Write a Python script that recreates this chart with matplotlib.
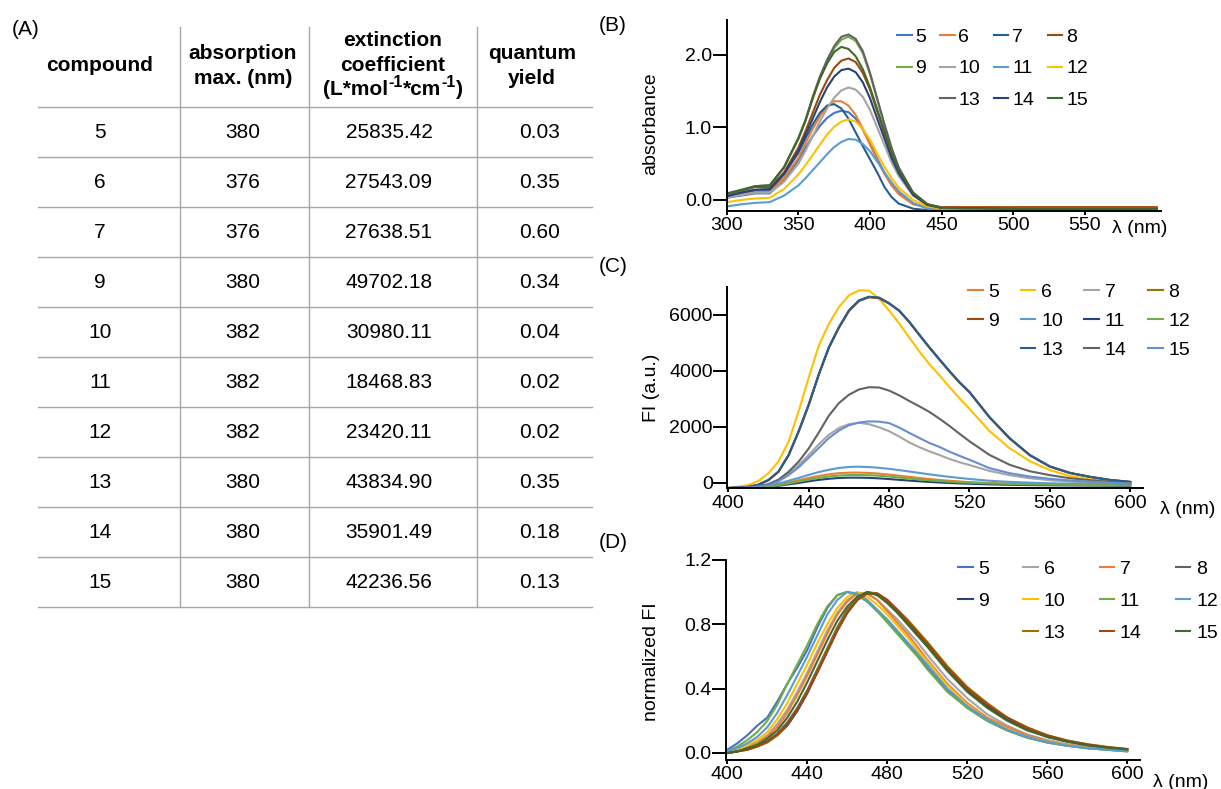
import matplotlib
matplotlib.use('Agg')
import matplotlib.pyplot as plt
from matplotlib.lines import Line2D

plt.rcParams['font.family'] = ['Liberation Sans', 'DejaVu Sans']

# ---- (A) table data ----
compounds = ['5', '6', '7', '9', '10', '11', '12', '13', '14', '15']
abs_max = [380, 376, 376, 380, 382, 382, 382, 380, 380, 380]
ext_coeff = [25835.42, 27543.09, 27638.51, 49702.18, 30980.11,
             18468.83, 23420.11, 43834.90, 35901.49, 42236.56]
q_yield = [0.03, 0.35, 0.60, 0.34, 0.04, 0.02, 0.02, 0.35, 0.18, 0.13]

# ---- (B) absorbance spectra ----
wl_abs = [300, 310, 320, 330, 340, 350, 355, 360, 365, 370, 375, 380, 385,
          390, 395, 400, 405, 410, 415, 420, 430, 440, 450, 500, 550, 600]
abs5 = [.03, .06, .09, .09, .27, .55, .72, .88, 1.02, 1.13, 1.20, 1.23, 1.21, 1.12, .97, .78, .57, .38, .22, .10, -.05, -.11, -.13, -.13, -.13, -.13]
abs6 = [.05, .08, .12, .12, .30, .58, .78, .98, 1.15, 1.29, 1.36, 1.36, 1.30, 1.17, .98, .76, .55, .36, .20, .08, -.06, -.10, -.10, -.10, -.10, -.10]
abs7 = [.06, .10, .14, .14, .35, .65, .85, 1.04, 1.20, 1.30, 1.32, 1.26, 1.12, .93, .74, .56, .38, .18, .04, -.05, -.12, -.14, -.15, -.15, -.15, -.15]
abs8 = [.07, .12, .18, .17, .38, .72, .95, 1.20, 1.45, 1.65, 1.82, 1.92, 1.95, 1.90, 1.75, 1.52, 1.22, .92, .63, .40, .08, -.06, -.10, -.10, -.10, -.10]
abs9 = [.08, .13, .19, .20, .45, .84, 1.09, 1.40, 1.68, 1.90, 2.09, 2.21, 2.25, 2.19, 2.02, 1.73, 1.38, 1.03, .71, .44, .10, -.06, -.11, -.12, -.12, -.12]
abs10 = [.03, .07, .10, .10, .25, .50, .68, .88, 1.08, 1.26, 1.41, 1.51, 1.55, 1.52, 1.42, 1.24, 1.00, .76, .52, .33, .06, -.07, -.11, -.12, -.12, -.12]
abs11 = [-.09, -.06, -.04, -.03, .06, .20, .30, .41, .52, .63, .73, .80, .84, .83, .77, .67, .53, .38, .24, .12, -.04, -.12, -.15, -.155, -.155, -.155]
abs12 = [-.03, .00, .02, .03, .15, .35, .48, .62, .76, .90, 1.01, 1.08, 1.11, 1.08, .98, .83, .64, .46, .30, .17, .00, -.09, -.12, -.12, -.12, -.12]
abs13 = [.08, .13, .19, .20, .45, .85, 1.10, 1.42, 1.70, 1.93, 2.12, 2.25, 2.28, 2.22, 2.05, 1.75, 1.40, 1.05, .72, .45, .10, -.06, -.11, -.12, -.12, -.12]
abs14 = [.05, .10, .14, .15, .36, .68, .90, 1.12, 1.35, 1.55, 1.70, 1.79, 1.81, 1.76, 1.62, 1.40, 1.12, .85, .58, .37, .07, -.07, -.11, -.12, -.12, -.12]
abs15 = [.09, .14, .19, .20, .45, .85, 1.10, 1.40, 1.67, 1.88, 2.04, 2.11, 2.08, 1.98, 1.80, 1.55, 1.25, .95, .65, .42, .10, -.06, -.11, -.12, -.12, -.12]

# ---- (C) fluorescence spectra ----
wl_fl = [400, 405, 410, 415, 420, 425, 430, 435, 440, 445, 450, 455, 460, 465, 470,
         475, 480, 485, 490, 495, 500, 505, 510, 515, 520, 530, 540, 550, 560, 570, 580, 590, 600]
fl5 = [-180, -175, -165, -150, -120, -60, 20, 100, 180, 250, 310, 350, 368, 370, 360, 335, 300, 260, 220, 180, 140, 110, 80, 55, 30, 0, -20, -40, -50, -60, -65, -70, -75]
fl6 = [-175, -130, -70, 70, 350, 770, 1480, 2560, 3760, 4900, 5680, 6280, 6700, 6880, 6870, 6580, 6160, 5700, 5200, 4700, 4250, 3850, 3430, 3030, 2650, 1850, 1240, 780, 460, 250, 130, 40, -20]
fl7 = [-180, -170, -155, -120, -50, 100, 330, 640, 1000, 1380, 1720, 1960, 2100, 2150, 2100, 1990, 1850, 1660, 1450, 1280, 1130, 1000, 860, 740, 640, 430, 280, 170, 100, 50, 10, -10, -30]
fl8 = [-180, -165, -140, -65, 100, 400, 990, 1830, 2780, 3860, 4820, 5540, 6140, 6500, 6630, 6600, 6410, 6150, 5750, 5290, 4840, 4410, 3990, 3590, 3240, 2340, 1590, 990, 585, 355, 215, 105, 35]
fl9 = [-180, -165, -140, -62, 105, 405, 995, 1840, 2790, 3870, 4830, 5550, 6150, 6510, 6645, 6615, 6415, 6155, 5755, 5295, 4845, 4415, 3995, 3595, 3245, 2345, 1595, 995, 588, 358, 218, 108, 38]
fl10 = [-180, -175, -170, -150, -100, -20, 80, 180, 290, 390, 470, 535, 572, 582, 568, 542, 505, 460, 410, 360, 310, 262, 220, 180, 142, 80, 40, 10, -10, -25, -35, -45, -55]
fl11 = [-185, -182, -178, -165, -140, -100, -50, 0, 60, 110, 150, 178, 190, 190, 182, 165, 140, 112, 85, 60, 38, 18, 0, -15, -28, -50, -65, -75, -82, -88, -92, -95, -98]
fl12 = [-182, -178, -172, -155, -130, -80, -20, 50, 120, 180, 230, 265, 283, 285, 278, 258, 230, 195, 160, 125, 95, 70, 45, 25, 10, -15, -35, -50, -60, -68, -72, -76, -80]
fl13 = [-180, -165, -140, -60, 110, 410, 1000, 1850, 2800, 3880, 4840, 5560, 6160, 6520, 6650, 6620, 6420, 6160, 5760, 5300, 4850, 4420, 4000, 3600, 3250, 2350, 1600, 1000, 590, 360, 220, 110, 40]
fl14 = [-180, -170, -155, -120, -40, 120, 400, 760, 1230, 1800, 2400, 2850, 3150, 3340, 3420, 3410, 3300, 3130, 2930, 2740, 2540, 2300, 2040, 1760, 1490, 1000, 650, 420, 280, 170, 100, 40, -10]
fl15 = [-180, -172, -160, -130, -70, 60, 280, 560, 900, 1250, 1600, 1870, 2060, 2160, 2200, 2190, 2140, 1980, 1790, 1610, 1430, 1290, 1120, 970, 830, 530, 350, 230, 150, 90, 50, 10, -20]

# ---- (D) normalized fluorescence ----
wl_nfl = [400, 405, 410, 415, 420, 425, 430, 435, 440, 445, 450, 455, 460, 465, 470,
          475, 480, 485, 490, 495, 500, 510, 520, 530, 540, 550, 560, 570, 580, 590, 600]
nfl5 = [.02, .06, .11, .17, .22, .32, .43, .53, .64, .78, .90, .98, 1.0, .98, .94, .88, .82, .75, .68, .61, .53, .39, .28, .20, .14, .095, .065, .045, .03, .02, .012]
nfl6 = [.0, .02, .04, .07, .11, .18, .27, .38, .50, .63, .76, .87, .95, .99, .99, .95, .89, .83, .76, .69, .61, .46, .34, .24, .17, .115, .08, .055, .037, .025, .016]
nfl7 = [.0, .01, .03, .06, .10, .16, .25, .36, .48, .61, .74, .86, .94, .99, .99, .95, .88, .81, .74, .66, .58, .43, .31, .22, .16, .11, .075, .05, .034, .023, .015]
nfl8 = [.0, .01, .025, .045, .075, .12, .19, .28, .39, .52, .65, .78, .89, .96, 1.0, .98, .94, .88, .81, .74, .67, .52, .39, .29, .21, .15, .10, .072, .05, .034, .023]
nfl9 = [.0, .01, .025, .045, .07, .11, .17, .26, .37, .50, .63, .76, .87, .95, .99, .99, .95, .88, .81, .74, .67, .52, .39, .29, .21, .15, .10, .072, .05, .034, .023]
nfl10 = [.01, .02, .05, .08, .13, .21, .31, .43, .55, .68, .80, .90, .97, 1.0, .97, .92, .86, .79, .72, .64, .57, .42, .30, .21, .15, .10, .07, .048, .032, .022, .014]
nfl11 = [.01, .04, .08, .13, .20, .30, .43, .55, .67, .80, .91, .98, 1.0, .98, .94, .88, .81, .74, .67, .60, .52, .38, .28, .20, .14, .095, .065, .045, .03, .02, .01]
nfl12 = [.01, .03, .06, .10, .16, .25, .36, .48, .60, .73, .86, .95, 1.0, .99, .95, .89, .83, .76, .69, .62, .55, .40, .29, .21, .145, .10, .068, .046, .03, .02, .01]
nfl13 = [.0, .01, .02, .04, .065, .11, .18, .27, .38, .51, .64, .77, .88, .96, 1.0, .99, .95, .89, .83, .76, .69, .54, .41, .31, .22, .16, .11, .078, .055, .038, .025]
nfl14 = [.0, .01, .02, .04, .07, .115, .18, .27, .38, .50, .63, .76, .87, .95, .99, .99, .95, .89, .82, .75, .68, .53, .40, .30, .22, .155, .11, .076, .053, .036, .024]
nfl15 = [.0, .01, .03, .05, .09, .14, .22, .32, .44, .57, .70, .82, .91, .97, 1.0, .98, .93, .87, .80, .73, .66, .51, .38, .28, .20, .14, .10, .07, .048, .033, .022]

labels = ['5', '6', '7', '8', '9', '10', '11', '12', '13', '14', '15']
abs_series = [abs5, abs6, abs7, abs8, abs9, abs10, abs11, abs12, abs13, abs14, abs15]
fl_series = [fl5, fl6, fl7, fl8, fl9, fl10, fl11, fl12, fl13, fl14, fl15]
nfl_series = [nfl5, nfl6, nfl7, nfl8, nfl9, nfl10, nfl11, nfl12, nfl13, nfl14, nfl15]

colors_B = ['#4472C4', '#ED7D31', '#255E91', '#9E480E', '#70AD47', '#A5A5A5',
            '#5B9BD5', '#FFC000', '#636363', '#264478', '#43682B']
colors_C = ['#ED7D31', '#FFC000', '#A5A5A5', '#997300', '#9E480E', '#5B9BD5',
            '#264478', '#70AD47', '#255E91', '#636363', '#698ED0']
colors_D = ['#4472C4', '#A5A5A5', '#ED7D31', '#636363', '#264478', '#FFC000',
            '#70AD47', '#5B9BD5', '#997300', '#9E480E', '#43682B']

W, H = 1221, 789
fig = plt.figure(figsize=(W / 100, H / 100), dpi=100)
renderer = fig.canvas.get_renderer()


def fx(x):
    return x / W


def fy(y):
    return 1 - y / H


def axes_px(left, top, right, bottom):
    return fig.add_axes([fx(left), fy(bottom), (right - left) / W, (bottom - top) / H])


# ---- table ----
tab = fig.add_axes([0, 0, 1, 1])
tab.set_xlim(0, W)
tab.set_ylim(H, 0)
tab.axis('off')
head_x = [100, 243, 393, 532]
col_x = [100, 243, 389, 540]
sep_x = [180, 309, 477]
line_col = '#A8A8A8'
row0, pitch = 107, 50
for i in range(len(compounds) + 1):
    tab.plot([38, 592], [row0 + i * pitch] * 2, color=line_col, lw=1)
for sx in sep_x:
    tab.plot([sx, sx], [27, row0 + len(compounds) * pitch], color=line_col, lw=1)

hdr = dict(fontsize=15, fontweight='bold', ha='center', va='center')
tab.text(head_x[0], 65, 'compound', **hdr)
tab.text(head_x[1], 53, 'absorption', **hdr)
tab.text(head_x[1], 78, 'max. (nm)', **hdr)
tab.text(head_x[2], 40, 'extinction', **hdr)
tab.text(head_x[2], 65, 'coefficient', **hdr)
tab.text(head_x[3], 53, 'quantum', **hdr)
tab.text(head_x[3], 78, 'yield', **hdr)

# unit line with superscripts, laid out piece by piece
parts = [('(L*mol', 15, 0), ('-1', 11.5, 8), ('*cm', 15, 0), ('-1', 11.5, 8), (')', 15, 0)]
pieces = []
for s, size, rise in parts:
    t = tab.text(0, 0, s, fontsize=size, fontweight='bold', ha='left', va='baseline')
    pieces.append((t, t.get_window_extent(renderer).width, rise))
total = sum(w for _, w, _ in pieces)
xcur = head_x[2] - total / 2
for t, w, rise in pieces:
    t.set_position((xcur, 95 - rise))
    xcur += w

for i, c in enumerate(compounds):
    yc = row0 + pitch / 2 + i * pitch
    row = [c, str(abs_max[i]), '%.2f' % ext_coeff[i], '%.2f' % q_yield[i]]
    for x, t in zip(col_x, row):
        tab.text(x, yc, t, fontsize=15, ha='center', va='center')

for lab, y in [('(A)', 29), ('(B)', 25), ('(C)', 267), ('(D)', 543)]:
    x = 26 if lab == '(A)' else 613
    tab.text(x, y, lab, fontsize=15, ha='center', va='center')


def style(ax, xlim, ylim, xticks, yticks, yfmt):
    for s in ['top', 'right']:
        ax.spines[s].set_visible(False)
    for s in ['left', 'bottom']:
        ax.spines[s].set_linewidth(1.4)
    ax.set_xlim(xlim)
    ax.set_ylim(ylim)
    ax.set_xticks(xticks)
    ax.set_yticks(yticks)
    ax.set_yticklabels([yfmt % v for v in yticks])
    ax.tick_params(axis='y', length=10, width=1.4, pad=0.5, labelsize=14)
    ax.tick_params(axis='x', length=3, width=1.4, pad=1.5, labelsize=14)
    ax.patch.set_alpha(0)


def add_legend(ax, lines, left, top, spacing, colspace, textpad):
    grid = [['5', '6', '7', '8'], ['9', '10', '11', '12'], [None, '13', '14', '15']]
    handles, labs = [], []
    for c in range(4):
        for r in range(3):
            key = grid[r][c]
            if key is None:
                handles.append(Line2D([], [], color='none'))
                labs.append('')
            else:
                handles.append(lines[key])
                labs.append(key)
    ax.legend(handles, labs, loc='upper left', bbox_to_anchor=(fx(left), fy(top)),
              bbox_transform=fig.transFigure, ncol=4, frameon=False, fontsize=14,
              handlelength=0.75, handletextpad=textpad, columnspacing=colspace,
              labelspacing=spacing, borderpad=0, borderaxespad=0)


# ---- (B) ----
axB = axes_px(726.7, 20, 1161, 210.7)
linesB = {}
for lab, ys, col in zip(labels, abs_series, colors_B):
    linesB[lab], = axB.plot(wl_abs, ys, color=col, lw=1.5)
style(axB, (300, 603), (-0.148, 2.48), [300, 350, 400, 450, 500, 550], [0, 1, 2], '%.1f')
add_legend(axB, linesB, 897, 28, 0.73, 0.7, 0.2)
fig.text(fx(651), fy(124), 'absorbance', fontsize=14, rotation=90, ha='center', va='center')
fig.text(fx(1112), fy(233), 'λ (nm)', fontsize=14, ha='left', va='baseline')

# ---- (C) ----
axC = axes_px(727.3, 286.7, 1143.3, 488.3)
linesC = {}
for lab, ys, col in zip(labels, fl_series, colors_C):
    linesC[lab], = axC.plot(wl_fl, ys, color=col, lw=1.5)
style(axC, (399.5, 606.5), (-190, 7010), [400, 440, 480, 520, 560, 600],
      [0, 2000, 4000, 6000], '%d')
add_legend(axC, linesC, 968, 283, 0.59, 1.1, 0.3)
fig.text(fx(651), fy(388), 'FI (a.u.)', fontsize=14, rotation=90, ha='center', va='center')
fig.text(fx(1160), fy(514), 'λ (nm)', fontsize=14, ha='left', va='baseline')

# ---- (D) ----
axD = axes_px(726, 559.7, 1140, 760)
linesD = {}
for lab, ys, col in zip(labels, nfl_series, colors_D):
    linesD[lab], = axD.plot(wl_nfl, ys, color=col, lw=1.5)
style(axD, (399.35, 606.4), (-0.0435, 1.2), [400, 440, 480, 520, 560, 600],
      [0, 0.4, 0.8, 1.2], '%.1f')
add_legend(axD, linesD, 958, 560, 0.75, 1.75, 0.3)
fig.text(fx(652), fy(662), 'normalized FI', fontsize=14, rotation=90, ha='center', va='center')
fig.text(fx(1153), fy(787), 'λ (nm)', fontsize=14, ha='left', va='baseline')

fig.savefig('out.png', dpi=100)
